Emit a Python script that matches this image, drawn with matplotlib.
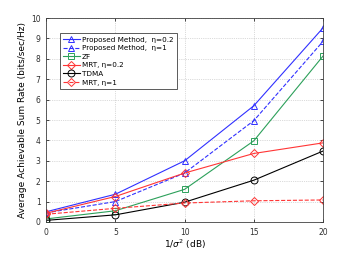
import matplotlib
matplotlib.use('Agg')
import matplotlib.pyplot as plt

# 数据
snr_db = [0, 5, 10, 15, 20]
prop_02 = [0.50, 1.36, 3.00, 5.70, 9.52]
prop_1 = [0.45, 1.00, 2.40, 4.97, 8.86]
zf = [0.15, 0.55, 1.60, 3.98, 8.14]
mrt_02 = [0.43, 1.25, 2.40, 3.36, 3.88]
tdma = [0.08, 0.35, 0.97, 2.05, 3.48]
mrt_1 = [0.38, 0.67, 0.93, 1.04, 1.08]

blue = '#3030ff'
green = '#2ca05a'
red = '#ff3535'

fig = plt.figure(figsize=(3.57, 2.54), dpi=100)
ax = fig.add_axes([0.129, 0.126, 0.776, 0.803])

ms = 5
ax.plot(snr_db, prop_02, '-', color=blue, marker='^', mfc='none', ms=ms, lw=0.8, mew=0.7,
        label='Proposed Method,  η=0.2')
ax.plot(snr_db, prop_1, '--', color=blue, marker='^', mfc='none', ms=ms, lw=0.8, mew=0.7,
        label='Proposed Method,  η=1')
ax.plot(snr_db, zf, '-', color=green, marker='s', mfc='none', ms=4, lw=0.8, mew=0.7,
        label='ZF')
ax.plot(snr_db, mrt_02, '-', color=red, marker='D', mfc='none', ms=4.5, lw=0.8, mew=0.7,
        label='MRT, η=0.2')
ax.plot(snr_db, tdma, '-', color='black', marker='o', mfc='none', ms=ms, lw=0.8, mew=0.7,
        label='TDMA')
ax.plot(snr_db, mrt_1, '--', color=red, marker='D', mfc='none', ms=4.5, lw=0.8, mew=0.7,
        label='MRT, η=1')

ax.set_xlim(0, 20)
ax.set_ylim(0, 10)
ax.set_xticks([0, 5, 10, 15, 20])
ax.set_yticks(range(0, 11))
ax.tick_params(direction='in', labelsize=5.5, length=2, width=0.5, top=True, right=True,
               pad=4, labelcolor='#303030')
ax.grid(True, linestyle=':', color='#b8b8b8', lw=0.5)
for s in ax.spines.values():
    s.set_linewidth(0.6)
    s.set_color('#404040')

ax.set_xlabel(r'1/$\sigma^2$ (dB)', fontsize=6.5, labelpad=1)
ax.set_ylabel('Average Achievable Sum Rate (bits/sec/Hz)', fontsize=6.5, labelpad=3)

leg = ax.legend(loc='upper left', bbox_to_anchor=(0.05, 0.925), fontsize=5.2, handlelength=2.3,
                labelspacing=0.35, borderpad=0.45, handletextpad=0.3, fancybox=False, framealpha=1,
                borderaxespad=0)
leg.get_frame().set_edgecolor('#404040')
leg.get_frame().set_linewidth(0.6)

fig.savefig('out.png', dpi=100)
